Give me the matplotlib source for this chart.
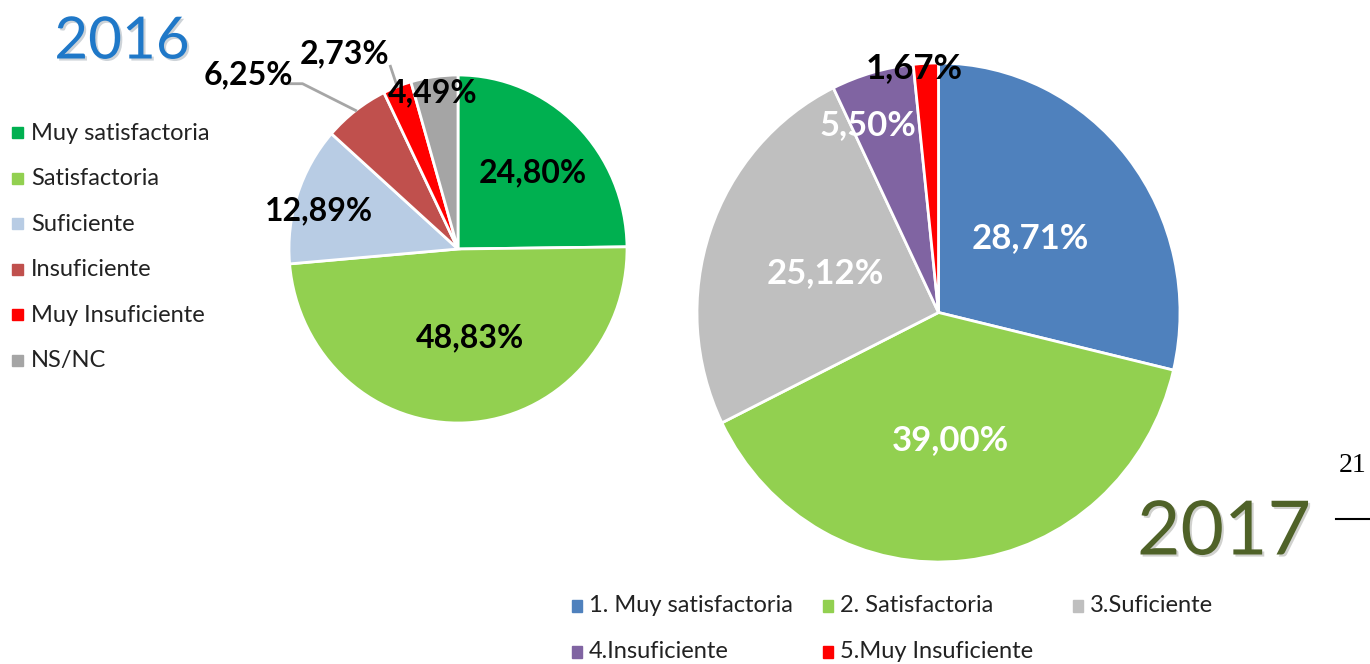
import matplotlib
matplotlib.use('Agg')
import matplotlib.pyplot as plt
import matplotlib.patheffects as pe
import numpy as np

plt.rcParams['font.family'] = ['Lato', 'DejaVu Sans']

# 2016 data
labels_2016 = ['Muy satisfactoria', 'Satisfactoria', 'Suficiente', 'Insuficiente',
               'Muy Insuficiente', 'NS/NC']
values_2016 = [24.80, 48.83, 12.89, 6.25, 2.73, 4.49]
colors_2016 = ['#00B050', '#92D050', '#B8CCE4', '#C0504D', '#FF0000', '#A5A5A5']

# 2017 data
labels_2017 = ['1. Muy satisfactoria', '2. Satisfactoria', '3.Suficiente',
               '4.Insuficiente', '5.Muy Insuficiente']
values_2017 = [28.71, 39.00, 25.12, 5.50, 1.67]
colors_2017 = ['#4F81BD', '#92D050', '#BFBFBF', '#8064A2', '#FF0000']

W, H = 1370, 664
fig = plt.figure(figsize=(W / 100, H / 100), dpi=100)
fig.patch.set_facecolor('white')


def pie_axes(cx, cy, rx, ry):
    ax = fig.add_axes([(cx - rx) / W, (H - cy - ry) / H, 2 * rx / W, 2 * ry / H])
    ax.axis('off')
    return ax


def fmt(v):
    return ('%.2f%%' % v).replace('.', ',')


# ---- 2016 pie ----
ax1 = pie_axes(458, 249, 169, 174)
wedges1, _ = ax1.pie(values_2016, colors=colors_2016, startangle=90, counterclock=False,
                     radius=1, wedgeprops=dict(edgecolor='white', linewidth=2))
ax1.set_aspect('auto')
ax1.set_xlim(-1, 1)
ax1.set_ylim(-1, 1)

pos_2016 = [(0.44, 0.44), (0.07, -0.51), (-0.82, 0.22), (-1.24, 1.0), (-0.67, 1.12), (-0.15, 0.90)]
for i, (w, v) in enumerate(zip(wedges1, values_2016)):
    tx, ty = pos_2016[i]
    if i in (3, 4):
        mid = np.deg2rad((w.theta1 + w.theta2) / 2)
        ex, ey = np.cos(mid), np.sin(mid)
        if i == 3:
            ax1.plot([tx + 0.23, tx + 0.32, ex], [ty - 0.05, ty - 0.05, ey], color='#A6A6A6',
                     lw=2, clip_on=False)
        else:
            ax1.plot([tx + 0.27, ex], [ty - 0.07, ey], color='#A6A6A6', lw=2, clip_on=False)
    ax1.text(tx, ty, fmt(v), ha='center', va='center', fontsize=23, fontweight='bold',
             color='black', clip_on=False)

# ---- 2017 pie ----
ax2 = pie_axes(938.5, 312.5, 241.5, 249.5)
wedges2, _ = ax2.pie(values_2017, colors=colors_2017, startangle=90, counterclock=False,
                     radius=1, wedgeprops=dict(edgecolor='white', linewidth=2))
ax2.set_aspect('auto')
ax2.set_xlim(-1, 1)
ax2.set_ylim(-1, 1)

pos_2017 = [(0.38, 0.30), (0.05, -0.51), (-0.47, 0.16), (-0.29, 0.75), (-0.10, 0.98)]
txt_col_2017 = ['white', 'white', 'white', 'white', 'black']
for i, v in enumerate(values_2017):
    tx, ty = pos_2017[i]
    ax2.text(tx, ty, fmt(v), ha='center', va='center', fontsize=25, fontweight='bold',
             color=txt_col_2017[i], clip_on=False)

# ---- titles ----
shadow = [pe.SimplePatchShadow(offset=(1.5, -1.5), alpha=0.2), pe.Normal()]
fig.text(122 / W, 1 - 42 / H, '2016', ha='center', va='center', fontsize=42,
         color='#1F78C8', path_effects=shadow)
fig.text(1224 / W, 1 - 533 / H, '2017', ha='center', va='center', fontsize=54,
         color='#4F6228', path_effects=shadow)

# page number fragment
fig.text(1339 / W, 1 - 466 / H, '21', ha='left', va='center', fontsize=20,
         family='Liberation Serif', color='black')
fig.add_artist(plt.Line2D([1336 / W, 1.0], [1 - 519 / H, 1 - 519 / H], color='black', lw=1.5))

# ---- legend 2016 (vertical) ----
for i, (lab, c) in enumerate(zip(labels_2016, colors_2016)):
    y = 133 + i * 45.6
    fig.add_artist(plt.Rectangle((12 / W, 1 - (y + 5) / H), 11 / W, 11 / H, color=c,
                                 transform=fig.transFigure))
    fig.text(31 / W, 1 - y / H, lab, ha='left', va='center', fontsize=17, color='#222222')

# ---- legend 2017 (3 columns) ----
for i, (lab, c) in enumerate(zip(labels_2017, colors_2017)):
    col, row = i % 3, i // 3
    x = 572 + col * 250.5
    y = 606 + row * 46
    fig.add_artist(plt.Rectangle((x / W, 1 - (y + 6) / H), 10 / W, 12 / H, color=c,
                                 transform=fig.transFigure))
    fig.text((x + 17) / W, 1 - y / H, lab, ha='left', va='center', fontsize=17,
             color='#222222')

plt.savefig('out.png', dpi=100)
